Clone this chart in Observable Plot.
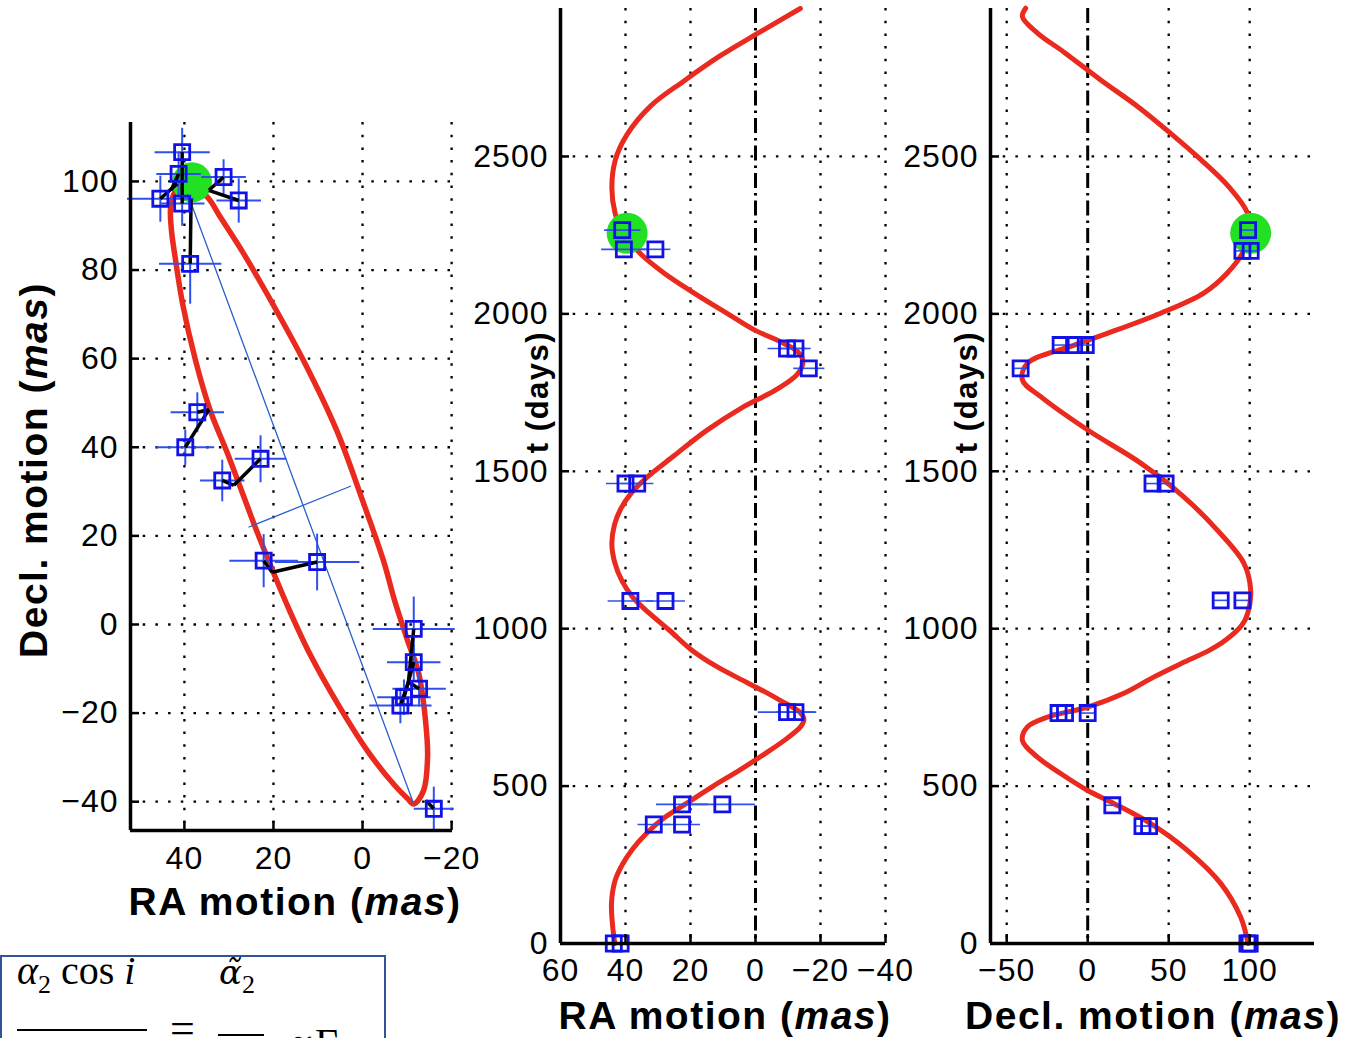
<!DOCTYPE html>
<html>
<head>
<meta charset="utf-8">
<script src="https://cdn.jsdelivr.net/npm/d3@7"></script>
<script src="https://cdn.jsdelivr.net/npm/@observablehq/plot@0.6"></script>
<style>
html, body { margin: 0; padding: 0; background: #fff; width: 1345px; height: 1038px; overflow: hidden; position: relative; font-family: "Liberation Sans", Arial, sans-serif; }
.panel { position: absolute; top: 0; }
.lab { position: absolute; font-weight: bold; font-size: 39px; letter-spacing: 1.5px; white-space: nowrap; color: #000; transform: translate(-50%, -50%); line-height: 1; }
.lab.rot { transform: translate(-50%, -50%) rotate(-90deg); }
.lab.small { font-size: 31px; }
.lab i { font-style: italic; }
#formula { position: absolute; left: 0; top: 955px; width: 382px; height: 140px; border: 2px solid #2f5597; font-family: "Liberation Serif", "DejaVu Serif", serif; font-size: 40px; color: #000; }
#formula span { position: absolute; white-space: nowrap; line-height: 1; }
#formula .bar { position: absolute; height: 2px; background: #000; }
</style>
</head>
<body>
<div id="p1" class="panel" style="left:0px"></div>
<div id="p2" class="panel" style="left:440px"></div>
<div id="p3" class="panel" style="left:870px"></div>

<div class="lab rot" style="left:33px; top:470px">Decl. motion (<i>mas</i>)</div>
<div class="lab" style="left:295px; top:901px">RA motion (<i>mas</i>)</div>
<div class="lab rot small" style="left:537px; top:392px">t (days)</div>
<div class="lab" style="left:725px; top:1015px">RA motion (<i>mas</i>)</div>
<div class="lab rot small" style="left:966px; top:392px">t (days)</div>
<div class="lab" style="left:1153px; top:1015px">Decl. motion (<i>mas</i>)</div>

<div id="formula">
  <span style="left:15px; top:-6px"><i>α</i><sub style="font-size:26px">2</sub> cos <i>i</i></span>
  <div class="bar" style="left:15px; top:72px; width:130px"></div>
  <span style="left:168px; top:50px; font-size:44px">=</span>
  <span style="left:217px; top:-6px"><i style="font-family:'DejaVu Serif',serif; font-size:34px">α̃</i><sub style="font-size:26px">2</sub></span>
  <div class="bar" style="left:216px; top:77px; width:46px"></div>
  <span style="left:286px; top:66px">∝Γ</span>
</div>

<script>
// ---------- Panel 1: sky-plane orbit ----------
const skyXDomain = [52.1, -20.2];
const skyYDomain = [-46.5, 113.3];
const skyRATicks = [40, 20, 0, -20];
const skyDecTicks = [-40, -20, 0, 20, 40, 60, 80, 100];

const orbitRA  = [40.2, 42.2, 43.1, 42.9, 42.2, 40.4, 37.5, 34.2, 30.6, 27.2, 23.8, 20.2, 16.4, 11.7, 5.4, -1.3, -7.2, -10.1, -11.5, -13.7, -14.6, -14.2, -12.6, -10.1, -7.2, -4.7, 0.0, 5.8, 12.8, 20.2, 26.7, 31.9, 34.6, 37.5];
const orbitDec = [99.6, 97.5, 94.1, 88.9, 83.7, 72.4, 59.6, 48.3, 39.3, 30.3, 21.2, 12.2, 3.2, -6.9, -18.2, -28.8, -36.3, -39.3, -40.5, -37.5, -30.0, -22.3, -11.0, -3.6, 5.4, 14.4, 28.0, 43.8, 58.7, 72.4, 83.7, 91.9, 96.2, 98.7];

const majorAxisRA = [39.2, -11.5];
const majorAxisDec = [97.0, -40.5];
const minorAxisRA = [25.5, 2.7];
const minorAxisDec = [22.0, 31.2];

const skyObsRA   = [40.5, 41.3, 31.2, 27.8, 45.4, 40.5, 38.7, 37.1, 39.8, 22.9, 31.5, 22.2, 10.2, -11.5, -11.5, -12.7, -9.3, -8.5, -16.0];
const skyObsDec  = [106.6, 101.7, 101.0, 95.7, 96.1, 95.0, 81.4, 47.9, 40.0, 37.4, 32.5, 14.4, 14.1, -1.0, -8.5, -14.5, -16.4, -18.3, -41.6];
const skyErrRA   = [6.2, 5, 5, 5, 7.5, 5, 7, 6, 6.5, 5.8, 5, 7.7, 9.5, 9.2, 6, 6, 6, 7, 4.5];
const skyErrDec  = [5.5, 5, 4, 5, 5.2, 5, 9, 4.5, 4, 5.3, 4.7, 6, 6.4, 7.3, 4, 4, 4, 4, 5];
const skyModelRA  = [40.5, 43.0, 34.5, 34.5, 41.6, 40.5, 38.5, 34.5, 34.5, 28.9, 28.9, 20.3, 20.3, -10.3, -10.3, -10.3, -10.3, -10.3, -14.2];
const skyModelDec = [99.0, 98.0, 98.0, 98.0, 99.5, 99.0, 96.0, 48.5, 48.5, 31.4, 31.4, 11.8, 11.8, -13.0, -13.0, -13.0, -13.0, -13.0, -39.7];

const greenSkyRA = [38.3];
const greenSkyDec = [99.8];

// ---------- Panels 2 & 3: motion vs time ----------
const tDomain = [0, 2970];
const tTicks = [0, 500, 1000, 1500, 2000, 2500];
const raXDomain = [60, -40];
const raTicks = [60, 40, 20, 0, -20, -40];
const decXDomain = [-60, 140];
const decTicks = [-50, 0, 50, 100];

const modelT_RA = [0, 60, 130, 200, 250, 300, 350, 400, 450, 500, 550, 600, 650, 690, 712, 735, 770, 800, 830, 880, 935, 995, 1050, 1100, 1150, 1210, 1270, 1330, 1380, 1430, 1480, 1550, 1630, 1700, 1760, 1810, 1850, 1880, 1910, 1950, 2000, 2070, 2130, 2190, 2260, 2320, 2400, 2490, 2570, 2660, 2740, 2820, 2890, 2970];
const modelRA   = [43.3, 44.0, 44.3, 43.2, 41.0, 37.8, 33.5, 28.0, 20.5, 13.0, 5.0, -2.5, -9.5, -14.0, -14.9, -13.6, -8.0, -2.8, 2.8, 12.0, 20.0, 26.5, 32.8, 37.8, 41.0, 43.3, 44.2, 43.4, 41.5, 38.3, 33.5, 25.0, 15.0, 4.5, -6.5, -13.0, -14.6, -13.0, -8.0, 0.5, 8.5, 19.5, 28.2, 35.3, 41.0, 43.2, 44.2, 43.1, 39.5, 32.3, 22.0, 10.8, -0.5, -13.8];

const modelT_Dec = [0, 84, 191, 296, 381, 445, 486, 540, 592, 645, 688, 719, 751, 794, 847, 890, 931, 963, 1010, 1049, 1122, 1207, 1313, 1419, 1526, 1631, 1737, 1790, 1843, 1895, 1938, 2002, 2066, 2130, 2193, 2257, 2320, 2404, 2489, 2574, 2658, 2743, 2829, 2892, 2944, 2971];
const modelDec   = [99.0, 94.4, 82.1, 61.5, 38.9, 16.1, 0.0, -16.7, -31.0, -40.3, -37.2, -24.9, 0.0, 22.0, 41.0, 58.0, 75.0, 85.0, 95.0, 98.8, 100.6, 96.5, 80.0, 59.3, 32.7, 0.0, -29.0, -40.3, -37.2, -11.5, 12.1, 45.0, 71.6, 86.2, 95.5, 99.5, 98.6, 87.0, 70.0, 51.0, 31.0, 8.0, -14.0, -31.0, -40.3, -38.3];

const raObsT = [0, 0, 378, 378, 442, 442, 735, 735, 1088, 1088, 1461, 1461, 1827, 1890, 1890, 2205, 2205, 2266];
const raObs  = [43.6, 41.5, 31.3, 22.6, 22.6, 10.2, -9.7, -12.3, 38.5, 27.7, 40.0, 36.4, -16.4, -9.7, -12.3, 40.5, 30.8, 41.0];
const raErr  = [10, 9, 5, 5.5, 8, 10, 9, 6, 7, 6, 6, 5, 4.8, 6, 4.7, 7, 4.6, 5.6];

const decObsT = [0, 0, 373, 373, 439, 732, 732, 732, 1090, 1090, 1461, 1461, 1827, 1901, 1901, 1901, 2200, 2200, 2266];
const decObs  = [98.6, 100.0, 33.8, 37.9, 15.2, -18.0, -14.0, 0.0, 82.1, 95.5, 40.0, 48.1, -41.4, -16.7, -8.4, -1.2, 95.5, 100.6, 99.0];
const decErr  = [4, 4, 4, 4, 4, 4, 4, 4, 4, 4, 4, 4, 4, 4, 4, 4, 4, 4, 4];

const greenT = [2256];
const greenRA = [39.5];
const greenDec = [100.6];

// ---------- styling ----------
const RED = "#ea2a1e", GREEN = "#22e022", BLUE = "#1212e8", ERR = "#3050ee", AXISBLUE = "#2a5fcc";
const gridStyle = {stroke: "#000", strokeWidth: 2.3, strokeDasharray: "2.5,10.2"};
const dashDot = {stroke: "#000", strokeWidth: 3, strokeDasharray: "15,5,2.5,5"};
const plotStyle = {background: "none", fontFamily: "'Liberation Sans', Arial, sans-serif", fontSize: "32px", letterSpacing: "1px", color: "#000", overflow: "visible"};
const fmt = d3.format("d");

const zip = (a, b, ka, kb) => a.map((v, i) => ({[ka]: v, [kb]: b[i]}));

// Panel 1
const W1 = 480, H1 = 880, mL1 = 130, mR1 = 28, mT1 = 122, mB1 = 50;
const pw1 = W1 - mL1 - mR1, ph1 = H1 - mT1 - mB1;
const orbitRows = zip(orbitRA, orbitDec, "x", "y");
const skyObs = skyObsRA.map((v, i) => ({ra: v, dec: skyObsDec[i], era: skyErrRA[i], edec: skyErrDec[i], mra: skyModelRA[i], mdec: skyModelDec[i]}));

const p1 = Plot.plot({
  width: W1, height: H1,
  marginLeft: mL1, marginRight: mR1, marginTop: mT1, marginBottom: mB1,
  style: plotStyle,
  x: {domain: skyXDomain, ticks: skyRATicks, tickFormat: fmt, tickSize: 0, tickPadding: 16, label: null},
  y: {domain: skyYDomain, ticks: skyDecTicks, tickFormat: fmt, tickSize: 0, tickPadding: 12, label: null},
  marks: [
    Plot.ruleX(skyRATicks, gridStyle),
    Plot.ruleY(skyDecTicks, gridStyle),
    Plot.line(orbitRows, {x: "x", y: "y", curve: "catmull-rom-closed", stroke: RED, strokeWidth: 5.5}),
    Plot.dot(zip(greenSkyRA, greenSkyDec, "x", "y"), {x: "x", y: "y", r: 20, fill: GREEN}),
    Plot.line(zip(majorAxisRA, majorAxisDec, "x", "y"), {x: "x", y: "y", stroke: AXISBLUE, strokeWidth: 1.3}),
    Plot.line(zip(minorAxisRA, minorAxisDec, "x", "y"), {x: "x", y: "y", stroke: AXISBLUE, strokeWidth: 1.3}),
    Plot.link(skyObs, {x1: d => d.ra - d.era, x2: d => d.ra + d.era, y1: "dec", y2: "dec", stroke: ERR, strokeWidth: 2}),
    Plot.link(skyObs, {x1: "ra", x2: "ra", y1: d => d.dec - d.edec, y2: d => d.dec + d.edec, stroke: ERR, strokeWidth: 2}),
    Plot.link(skyObs, {x1: "ra", y1: "dec", x2: "mra", y2: "mdec", stroke: "#000", strokeWidth: 3.5}),
    Plot.dot(skyObs, {x: "ra", y: "dec", symbol: "square", r: 8.5, stroke: BLUE, strokeWidth: 2.8, fill: "none"}),
    Plot.tickX(skyRATicks, {x: d => d, insetTop: ph1 - 9, stroke: "#000", strokeWidth: 2.5}),
    Plot.tickY(skyDecTicks, {y: d => d, insetRight: pw1 - 9, stroke: "#000", strokeWidth: 2.5}),
    Plot.ruleX([skyXDomain[0]], {stroke: "#000", strokeWidth: 3.5}),
    Plot.ruleY([skyYDomain[0]], {stroke: "#000", strokeWidth: 3.5})
  ]
});
document.getElementById("p1").appendChild(p1);

// Panel 2: RA vs t
const W2 = 470, H2 = 1000, mL2 = 120, mR2 = 25, mT2 = 8, mB2 = 57;
const pw2 = W2 - mL2 - mR2, ph2 = H2 - mT2 - mB2;
const raModelRows = zip(modelT_RA, modelRA, "t", "v");
const raObsRows = raObsT.map((t, i) => ({t, v: raObs[i], e: raErr[i]}));

const p2 = Plot.plot({
  width: W2, height: H2,
  marginLeft: mL2, marginRight: mR2, marginTop: mT2, marginBottom: mB2,
  style: plotStyle,
  x: {domain: raXDomain, ticks: raTicks, tickFormat: fmt, tickSize: 0, tickPadding: 15, label: null},
  y: {domain: tDomain, ticks: tTicks, tickFormat: fmt, tickSize: 0, tickPadding: 12, label: null},
  marks: [
    Plot.ruleX(raTicks.filter(d => d !== 0), gridStyle),
    Plot.ruleY(tTicks, gridStyle),
    Plot.ruleX([0], dashDot),
    Plot.line(raModelRows, {x: "v", y: "t", curve: "catmull-rom", stroke: RED, strokeWidth: 5}),
    Plot.dot(zip(greenRA, greenT, "x", "y"), {x: "x", y: "y", r: 20.5, fill: GREEN}),
    Plot.link(raObsRows, {x1: d => d.v - d.e, x2: d => d.v + d.e, y1: "t", y2: "t", stroke: ERR, strokeWidth: 1.6}),
    Plot.dot(raObsRows, {x: "v", y: "t", symbol: "square", r: 8.5, stroke: BLUE, strokeWidth: 2.8, fill: "none"}),
    Plot.tickX(raTicks, {x: d => d, insetTop: ph2 - 9, stroke: "#000", strokeWidth: 2.5}),
    Plot.tickY(tTicks, {y: d => d, insetRight: pw2 - 9, stroke: "#000", strokeWidth: 2.5}),
    Plot.ruleX([raXDomain[0]], {stroke: "#000", strokeWidth: 3.5}),
    Plot.ruleY([tDomain[0]], {stroke: "#000", strokeWidth: 3.5})
  ]
});
document.getElementById("p2").appendChild(p2);

// Panel 3: Dec vs t
const W3 = 475, H3 = 1000, mL3 = 120, mR3 = 31, mT3 = 8, mB3 = 57;
const pw3 = W3 - mL3 - mR3, ph3 = H3 - mT3 - mB3;
const decModelRows = zip(modelT_Dec, modelDec, "t", "v");
const decObsRows = decObsT.map((t, i) => ({t, v: decObs[i], e: decErr[i]}));

const p3 = Plot.plot({
  width: W3, height: H3,
  marginLeft: mL3, marginRight: mR3, marginTop: mT3, marginBottom: mB3,
  style: plotStyle,
  x: {domain: decXDomain, ticks: decTicks, tickFormat: fmt, tickSize: 0, tickPadding: 15, label: null},
  y: {domain: tDomain, ticks: tTicks, tickFormat: fmt, tickSize: 0, tickPadding: 12, label: null},
  marks: [
    Plot.ruleX(decTicks.filter(d => d !== 0), gridStyle),
    Plot.ruleY(tTicks, gridStyle),
    Plot.ruleX([0], dashDot),
    Plot.line(decModelRows, {x: "v", y: "t", curve: "catmull-rom", stroke: RED, strokeWidth: 5}),
    Plot.dot(zip(greenDec, greenT, "x", "y"), {x: "x", y: "y", r: 20.5, fill: GREEN}),
    Plot.link(decObsRows, {x1: d => d.v - d.e, x2: d => d.v + d.e, y1: "t", y2: "t", stroke: ERR, strokeWidth: 1.6}),
    Plot.dot(decObsRows, {x: "v", y: "t", symbol: "square", r: 8.5, stroke: BLUE, strokeWidth: 2.8, fill: "none"}),
    Plot.tickX(decTicks, {x: d => d, insetTop: ph3 - 9, stroke: "#000", strokeWidth: 2.5}),
    Plot.tickY(tTicks, {y: d => d, insetRight: pw3 - 9, stroke: "#000", strokeWidth: 2.5}),
    Plot.ruleX([decXDomain[0]], {stroke: "#000", strokeWidth: 3.5}),
    Plot.ruleY([tDomain[0]], {stroke: "#000", strokeWidth: 3.5})
  ]
});
document.getElementById("p3").appendChild(p3);
</script>
</body>
</html>
